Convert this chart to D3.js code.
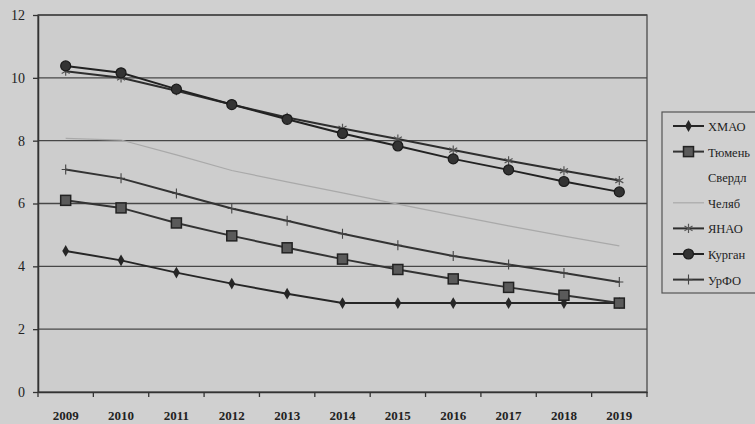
<!DOCTYPE html>
<html><head><meta charset="utf-8">
<script src="https://cdn.jsdelivr.net/npm/d3@7"></script>
<style>
html,body{margin:0;padding:0;background:#cfcfcf;overflow:hidden;}
svg{display:block;}
</style></head>
<body>
<svg id="c" width="755" height="424"></svg>
<script>
const years = ["2009","2010","2011","2012","2013","2014","2015","2016","2017","2018","2019"];
const yTicks = [0,2,4,6,8,10,12];
const hmao   = [4.49,4.19,3.80,3.45,3.13,2.83,2.83,2.83,2.83,2.83,2.83];
const tyumen = [6.10,5.86,5.38,4.97,4.59,4.23,3.90,3.60,3.33,3.08,2.83];
const sverdl = [];
const chelyab= [8.07,8.02,7.55,7.05,6.69,6.34,5.98,5.63,5.29,4.96,4.65];
const yanao  = [10.21,10.00,9.59,9.15,8.74,8.39,8.05,7.70,7.36,7.04,6.73];
const kurgan = [10.38,10.16,9.64,9.15,8.68,8.23,7.83,7.42,7.07,6.70,6.37];
const urfo   = [7.08,6.80,6.32,5.84,5.45,5.04,4.67,4.33,4.06,3.79,3.50];
const seriesNames = ["ХМАО","Тюмень","Свердл","Челяб","ЯНАО","Курган","УрФО"];
const seriesData = [hmao,tyumen,sverdl,chelyab,yanao,kurgan,urfo];
const seriesMarks = ["diamond","square","none","none","star","circle","plus"];
const seriesColors = ["#262626","#333333","#cfcfcf","#a9a9a9","#2e2e2e","#222222","#333333"];

const svg = d3.select("#c");
const m = {l:38, t:15, r:647, b:392};
const x = d3.scaleBand().domain(years).range([m.l, m.r]);
const y = d3.scaleLinear().domain([0,12]).range([m.b, m.t]);
const cx = d => x(d) + x.bandwidth()/2;

svg.append("rect").attr("width",755).attr("height",424).attr("fill","#d0d0d0");
svg.append("rect").attr("x",m.l).attr("y",m.t).attr("width",m.r-m.l).attr("height",m.b-m.t)
  .attr("fill","#cdcdcd").attr("stroke","#4a4a4a").attr("stroke-width",1.3);

// gridlines
svg.append("g").selectAll("line").data(yTicks.filter(v=>v>0)).join("line")
  .attr("x1",m.l).attr("x2",m.r).attr("y1",d=>y(d)).attr("y2",d=>y(d))
  .attr("stroke","#474747").attr("stroke-width",1.4);

// y axis
const ya = svg.append("g").attr("transform",`translate(${m.l},0)`)
  .call(d3.axisLeft(y).tickValues(yTicks).tickSize(5).tickSizeOuter(0));
ya.select(".domain").attr("stroke","#333").attr("stroke-width",1.5);
ya.selectAll(".tick line").attr("stroke","#333").attr("stroke-width",1.3);
ya.selectAll("text").attr("font-family","Liberation Serif").attr("font-size",14)
  .attr("fill","#222").attr("x",-13);

// x axis
const xa = svg.append("g").attr("transform",`translate(0,${m.b})`)
  .call(d3.axisBottom(x).tickSize(0).tickSizeOuter(0));
xa.select(".domain").attr("stroke","#333").attr("stroke-width",1.5);
xa.selectAll("text").attr("font-family","Liberation Serif").attr("font-size",13).attr("font-weight","bold")
  .attr("fill","#222").attr("y",19);
// boundary tick marks
svg.append("g").selectAll("line").data(years.concat(["end"])).join("line")
  .attr("x1",(d,i)=>m.l + i*x.bandwidth()).attr("x2",(d,i)=>m.l + i*x.bandwidth())
  .attr("y1",m.b).attr("y2",m.b+5).attr("stroke","#333").attr("stroke-width",1.3);

function drawMarker(g, type, px, py, color){
  if(type==="none") return;
  if(type==="diamond"){
    g.append("path").attr("d",d3.symbol(d3.symbolDiamond,40)()).attr("transform",`translate(${px},${py})`).attr("fill",color);
  } else if(type==="square"){
    g.append("rect").attr("x",px-5).attr("y",py-5).attr("width",10).attr("height",10)
      .attr("fill","#5a5a5a").attr("stroke","#222").attr("stroke-width",1.5);
  } else if(type==="circle"){
    g.append("circle").attr("cx",px).attr("cy",py).attr("r",5).attr("fill","#333").attr("stroke","#1a1a1a").attr("stroke-width",1.2);
  } else if(type==="star"){
    g.append("path").attr("d",d3.symbol(d3.symbolAsterisk,60)()).attr("transform",`translate(${px},${py})`)
      .attr("fill","none").attr("stroke","#555").attr("stroke-width",1.2);
  } else if(type==="plus"){
    g.append("path").attr("d",`M${px-4},${py}H${px+4}M${px},${py-5}V${py+5}`)
      .attr("stroke","#444").attr("stroke-width",1.1);
  }
}

const line = d3.line().x((d,i)=>cx(years[i])).y(d=>y(d));
seriesData.forEach((data,si)=>{
  if(!data.length) return;
  const g = svg.append("g");
  g.append("path").datum(data).attr("d",line).attr("fill","none")
    .attr("stroke",seriesColors[si]).attr("stroke-width", si===3?1.2:2);
  data.forEach((v,i)=>drawMarker(g, seriesMarks[si], cx(years[i]), y(v), seriesColors[si]));
});

// legend
const lg = svg.append("g");
lg.append("rect").attr("x",662).attr("y",112).attr("width",120).attr("height",181)
  .attr("fill","#d0d0d0").attr("stroke","#555").attr("stroke-width",1.2);
const texts = [];
seriesNames.forEach((n,i)=>{
  const ly = 126 + i*25.6;
  if(seriesMarks[i]!=="none" || i===3){
    lg.append("line").attr("x1",673).attr("x2",704).attr("y1",ly).attr("y2",ly)
      .attr("stroke",seriesColors[i]).attr("stroke-width",i===3?1.2:2);
  }
  drawMarker(lg, seriesMarks[i], 688.5, ly, seriesColors[i]);
  texts.push(lg.append("text").attr("x",708).attr("y",ly+5).text(n)
    .attr("font-family","Liberation Serif").attr("font-size",15).attr("fill","#1e1e1e"));
});
const maxW = 751 - 708;
let fs = 15;
const widest = () => d3.max(texts, t => t.node().getComputedTextLength());
while(widest() > maxW && fs > 10){
  fs -= 0.5;
  texts.forEach(t => t.attr("font-size", fs));
}
</script>
</body></html>
